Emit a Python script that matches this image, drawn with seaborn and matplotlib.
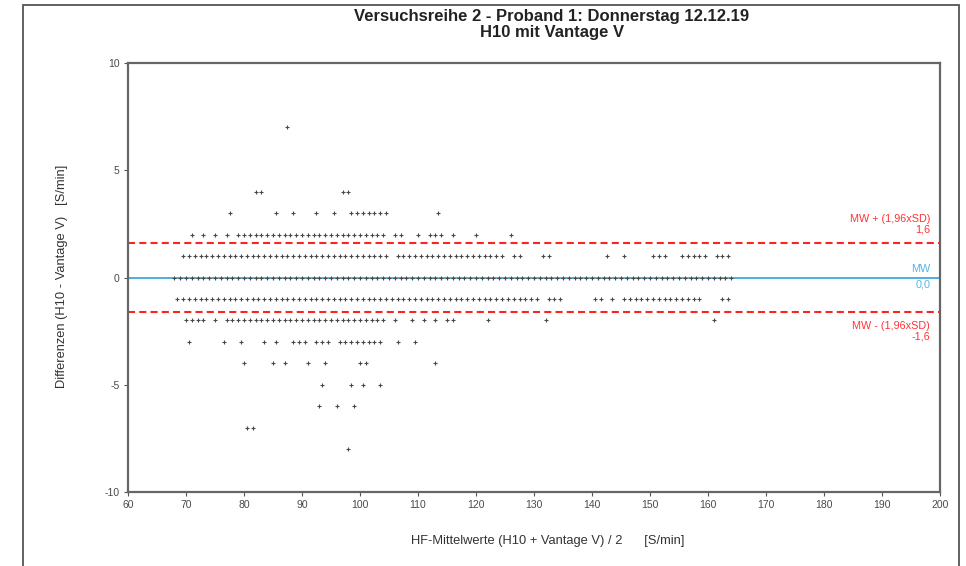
import matplotlib
matplotlib.use("Agg")
import matplotlib.pyplot as plt
import matplotlib.patches as mpatches
import numpy as np
import pandas as pd
import seaborn as sns

# ---- data: mean values (x) for each difference row (y) ----
diff_levels = [7, 4, 3, 2, 1, 0, -1, -2, -3, -4, -5, -6, -7, -8]

x_p7 = [87.5]
x_p4 = [82, 83, 97, 98]
x_p3 = [77.5, 85.5, 88.5, 92.5, 95.5, 98.5, 99.5, 100.5, 101.5, 102.5, 103.5, 104.5, 113.5]
x_p2 = [71, 73, 75, 77, 79, 80, 81, 82, 83, 84, 85, 86, 87, 88, 89, 90, 91, 92, 93, 94,
        95, 96, 97, 98, 99, 100, 101, 102, 103, 104, 106, 107, 110, 112, 113, 114, 116, 120, 126]
x_p1 = [69.5, 70.5, 71.5, 72.5, 73.5, 74.5, 75.5, 76.5, 77.5, 78.5, 79.5, 80.5, 81.5, 82.5,
        83.5, 84.5, 85.5, 86.5, 87.5, 88.5, 89.5, 90.5, 91.5, 92.5, 93.5, 94.5, 95.5, 96.5,
        97.5, 98.5, 99.5, 100.5, 101.5, 102.5, 103.5, 104.5, 106.5, 107.5, 108.5, 109.5,
        110.5, 111.5, 112.5, 113.5, 114.5, 115.5, 116.5, 117.5, 118.5, 119.5, 120.5, 121.5,
        122.5, 123.5, 124.5, 126.5, 127.5, 131.5, 132.5, 142.5, 145.5, 150.5, 151.5, 152.5,
        155.5, 156.5, 157.5, 158.5, 159.5, 161.5, 162.5, 163.5]
x_0 = [68, 69, 70, 71, 72, 73, 74, 75, 76, 77, 78, 79, 80, 81, 82, 83, 84, 85, 86, 87, 88,
       89, 90, 91, 92, 93, 94, 95, 96, 97, 98, 99, 100, 101, 102, 103, 104, 105, 106, 107,
       108, 109, 110, 111, 112, 113, 114, 115, 116, 117, 118, 119, 120, 121, 122, 123, 124,
       125, 126, 127, 128, 129, 130, 131, 132, 133, 134, 135, 136, 137, 138, 139, 140, 141,
       142, 143, 144, 145, 146, 147, 148, 149, 150, 151, 152, 153, 154, 155, 156, 157, 158,
       159, 160, 161, 162, 163, 164]
x_m1 = [68.5, 69.5, 70.5, 71.5, 72.5, 73.5, 74.5, 75.5, 76.5, 77.5, 78.5, 79.5, 80.5, 81.5,
        82.5, 83.5, 84.5, 85.5, 86.5, 87.5, 88.5, 89.5, 90.5, 91.5, 92.5, 93.5, 94.5, 95.5,
        96.5, 97.5, 98.5, 99.5, 100.5, 101.5, 102.5, 103.5, 104.5, 105.5, 106.5, 107.5,
        108.5, 109.5, 110.5, 111.5, 112.5, 113.5, 114.5, 115.5, 116.5, 117.5, 118.5, 119.5,
        120.5, 121.5, 122.5, 123.5, 124.5, 125.5, 126.5, 127.5, 128.5, 129.5, 130.5, 132.5,
        133.5, 134.5, 140.5, 141.5, 143.5, 145.5, 146.5, 147.5, 148.5, 149.5, 150.5, 151.5,
        152.5, 153.5, 154.5, 155.5, 156.5, 157.5, 158.5, 162.5, 163.5]
x_m2 = [70, 71, 72, 73, 75, 77, 78, 79, 80, 81, 82, 83, 84, 85, 86, 87, 88, 89, 90, 91, 92,
        93, 94, 95, 96, 97, 98, 99, 100, 101, 102, 103, 104, 106, 109, 111, 113, 115, 116,
        122, 132, 161]
x_m3 = [70.5, 76.5, 79.5, 83.5, 85.5, 88.5, 89.5, 90.5, 92.5, 93.5, 94.5, 96.5, 97.5, 98.5,
        99.5, 100.5, 101.5, 102.5, 103.5, 106.5, 109.5]
x_m4 = [80, 85, 87, 91, 94, 100, 101, 113]
x_m5 = [93.5, 98.5, 100.5, 103.5]
x_m6 = [93, 96, 99]
x_m7 = [80.5, 81.5]
x_m8 = [98]

rows = [x_p7, x_p4, x_p3, x_p2, x_p1, x_0, x_m1, x_m2, x_m3, x_m4, x_m5, x_m6, x_m7, x_m8]

mean_diff = 0.0
loa_upper = 1.6
loa_lower = -1.6

x_ticks = [60, 70, 80, 90, 100, 110, 120, 130, 140, 150, 160, 170, 180, 190, 200]
y_ticks = [-10, -5, 0, 5, 10]

df = pd.DataFrame({
    "mean": [v for r in rows for v in r],
    "diff": [d for d, r in zip(diff_levels, rows) for _ in r],
})

# ---- style ----
sns.set_style("white")
plt.rcParams["font.family"] = ["Liberation Sans", "DejaVu Sans"]
plt.rcParams["axes.unicode_minus"] = False

fig = plt.figure(figsize=(9.66, 5.66), dpi=100)
ax = fig.add_axes([128 / 966, 1 - 492 / 566, 812 / 966, 429 / 566])

sns.scatterplot(data=df, x="mean", y="diff", ax=ax, marker="+", s=9,
                color="#484848", linewidth=0.8, zorder=3)

ax.axhline(mean_diff, color="#2ea3d6", lw=1.2, zorder=2)
ax.axhline(loa_upper, color="#ff2222", lw=1.5, ls=(0, (3.4, 2.0)), zorder=2)
ax.axhline(loa_lower, color="#ff2222", lw=1.5, ls=(0, (3.4, 2.0)), zorder=2)

tx = 198.3
fs_ann = 7.8
ax.text(tx, 2.72, "MW + (1,96xSD)", color="#ff3333", ha="right", va="center", fontsize=fs_ann)
ax.text(tx, 2.24, "1,6", color="#ff3333", ha="right", va="center", fontsize=fs_ann)
ax.text(tx, 0.40, "MW", color="#55b5e5", ha="right", va="center", fontsize=fs_ann)
ax.text(tx, -0.32, "0,0", color="#55b5e5", ha="right", va="center", fontsize=fs_ann)
ax.text(tx, -2.26, "MW - (1,96xSD)", color="#ff3333", ha="right", va="center", fontsize=fs_ann)
ax.text(tx, -2.77, "-1,6", color="#ff3333", ha="right", va="center", fontsize=fs_ann)

ax.set_xlim(60, 200)
ax.set_ylim(-10, 10)
ax.set_xticks(x_ticks)
ax.set_yticks(y_ticks)
ax.tick_params(axis="both", labelsize=7.5, labelcolor="#4a4a4a", color="#555555",
               length=3, width=0.8, direction="out", bottom=True, left=True, pad=3)
for s in ax.spines.values():
    s.set_visible(True)
    s.set_color("#666666")
    s.set_linewidth(1.6)

ax.set_xlabel("HF-Mittelwerte (H10 + Vantage V) / 2      [S/min]",
              fontsize=9.3, color="#333333")
ax.set_ylabel("Differenzen (H10 - Vantage V)   [S/min]",
              fontsize=9.3, color="#333333")
ax.xaxis.set_label_coords(0.517, -0.101)
ax.yaxis.set_label_coords(-0.074, 0.502)

fig.text(552 / 966, 1 - 16 / 566, "Versuchsreihe 2 - Proband 1: Donnerstag 12.12.19",
         ha="center", va="center", fontsize=12, fontweight="bold", color="#222222")
fig.text(552 / 966, 1 - 32 / 566, "H10 mit Vantage V",
         ha="center", va="center", fontsize=12, fontweight="bold", color="#222222")

frame = mpatches.Rectangle((23 / 966, -0.02), (959 - 23) / 966, 1 - 5 / 566 + 0.02,
                           transform=fig.transFigure, fill=False,
                           edgecolor="#555555", linewidth=1.3, zorder=0)
fig.add_artist(frame)

fig.savefig("out.png", dpi=100)
